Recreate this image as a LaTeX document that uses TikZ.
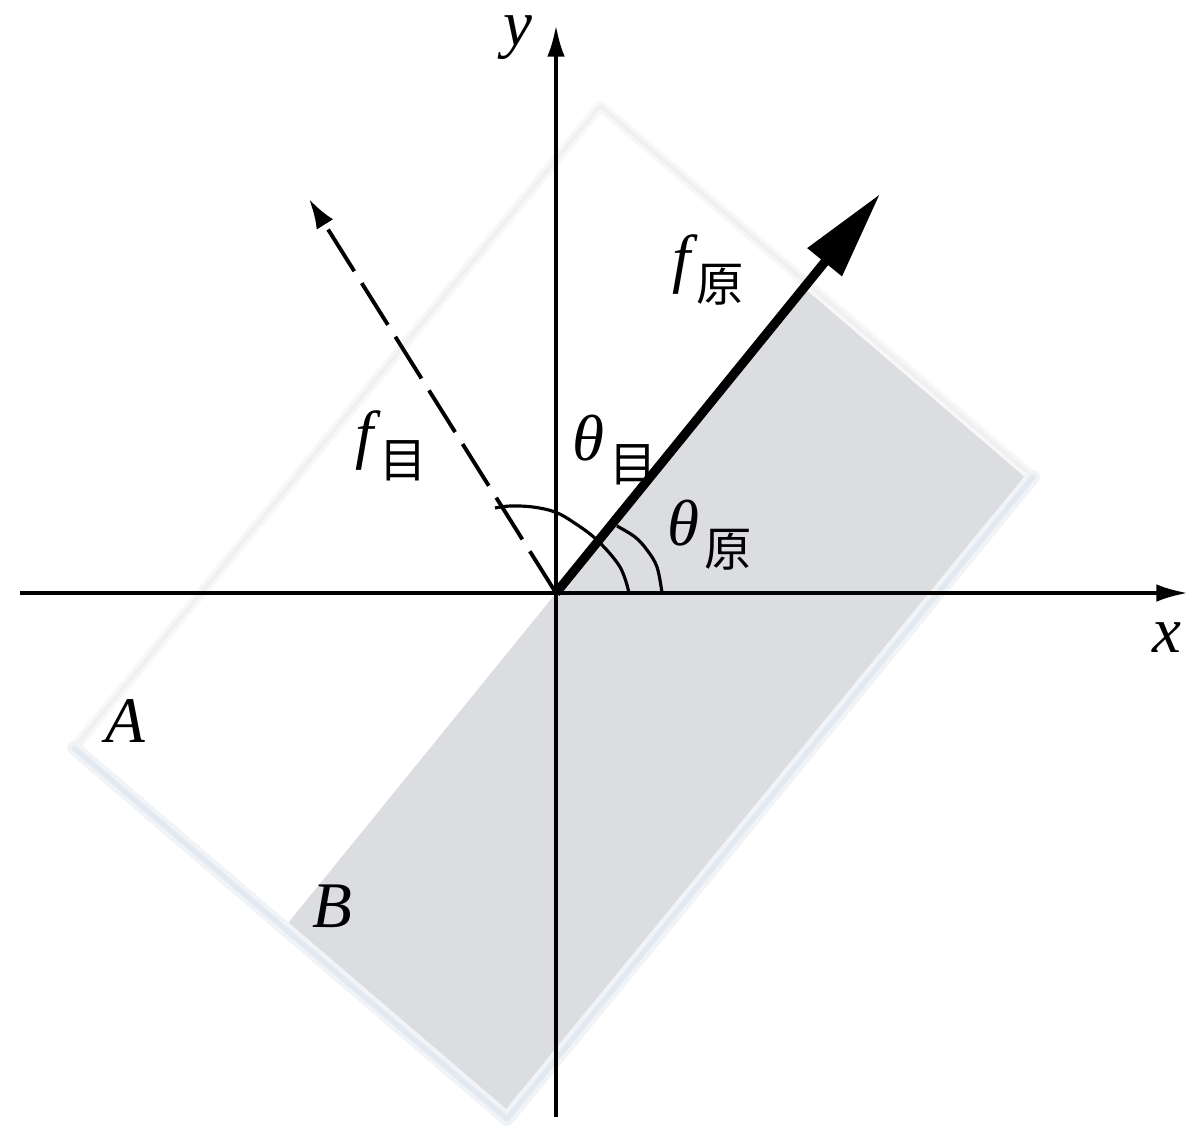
\documentclass[tikz,border=0pt]{standalone}
\usepackage{fontspec}
\setmainfont{Liberation Serif}
\newfontfamily\cjk{Noto Sans CJK SC}
\usetikzlibrary{arrows.meta}
\definecolor{plate}{RGB}{220,221,225}
\definecolor{rim}{RGB}{220,228,236}
\newcommand\cjksubscr[1]{\raisebox{-6pt}{\kern1.5pt{\cjk\upshape\fontsize{13.5}{14}\selectfont #1}}}
\begin{document}
\begin{tikzpicture}[x=0.01cm,y=-0.01cm,
  lab/.style={inner sep=0pt,font=\fontsize{18.5}{20}\selectfont\itshape},
  axis/.style={line width=1.1pt,-{Latex[length=9pt,width=5pt]}},
  angarc/.style={line width=0.9pt},
  border/.style={line join=round,line cap=round}]
\useasboundingbox (0,0) rectangle (1200,1145);
% plate corners
\coordinate (T) at (600,106);
\coordinate (R) at (1033,477);
\coordinate (Bo) at (507,1119);
\coordinate (L) at (74,748);
\coordinate (P1) at (807,284);
\coordinate (P2) at (284,928);
\coordinate (O) at (556,593);
\coordinate (xl) at (20,593);
\coordinate (xr) at (1188,593);
\coordinate (yb) at (556,1117);
\coordinate (yt) at (556,25);
\coordinate (ftip) at (880,194);
\coordinate (gtip) at (309,199);
% plate
\fill[white] (T) -- (R) -- (Bo) -- (L) -- cycle;
\fill[plate] (P1) -- (R) -- (Bo) -- (P2) -- cycle;
\draw[border,black!3,line width=3pt] (L) -- (T) -- (R);
\draw[border,black!6,line width=1pt] (L) -- (T) -- (R);
\draw[border,rim!40,line width=4pt] (R) -- (Bo) -- (L);
\draw[border,rim!80,line width=1.5pt] (R) -- (Bo) -- (L);
% axes
\draw[axis] (xl) -- (xr);
\draw[axis] (yb) -- (yt);
% angle arcs
\draw[angarc] plot[smooth,tension=0.6] coordinates {(629,593) (620,567) (597,540) (573,522) (555,512) (533,507) (510,506) (495,508)};
\draw[angarc] plot[smooth,tension=0.6] coordinates {(662,593) (657,567) (647,550) (635,537) (617,526)};
% vectors
\draw[line width=1.1pt,dash pattern=on 14pt off 4pt,-{Latex[length=8.5pt,width=5.5pt]}] (O) -- (gtip);
\draw[line width=2.6pt,-{Triangle[length=25pt,width=12pt]}] (O) -- (ftip);
% labels
\node[lab,anchor=base west] (ylab) at (503,45) {y};
\node[lab,anchor=base west] (xlab) at (1152,652) {x};
\node[lab,anchor=base west] (Alab) at (105,742) {A};
\node[lab,anchor=base west] (Blab) at (312,927) {B};
\node[lab,anchor=base west] (fyuan) at (672,280) {f\cjksubscr{原}};
\node[lab,anchor=base west] (fmu) at (355,456) {f\cjksubscr{目}};
\node[lab,anchor=base west] (thmu) at (572,460) {θ\cjksubscr{目}};
\node[lab,anchor=base west] (thyuan) at (667,545) {θ\cjksubscr{原}};
\end{tikzpicture}
\end{document}
